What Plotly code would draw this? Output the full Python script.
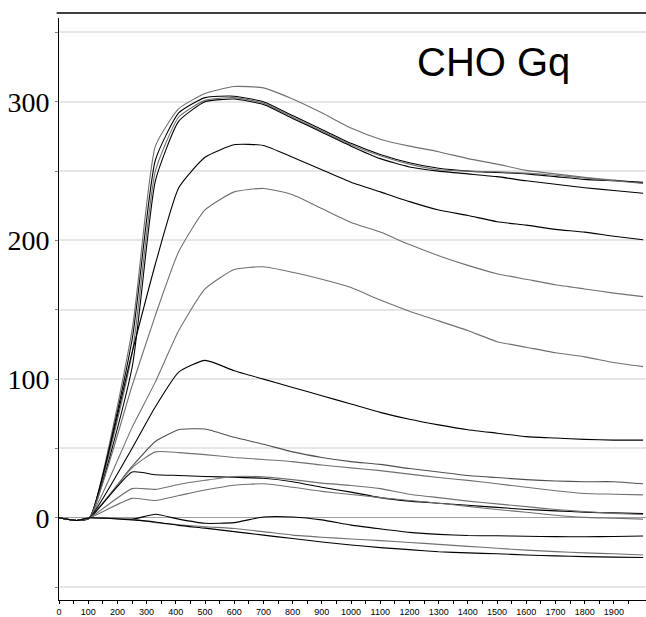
import plotly.graph_objects as go

# time axis (s)
T = [0, 60, 105, 250, 330, 410, 500, 600, 700, 800, 900, 1000, 1100, 1200,
     1300, 1400, 1500, 1600, 1700, 1800, 1900, 2000]

P1 = [0, -2, 0, 135, 268, 295, 306, 311, 310, 302, 292, 281, 273, 268, 264, 259, 255, 250.5, 248, 245.5, 243.5, 241.5]
P2 = [0, -2, 0, 128, 258, 292, 303, 304, 300, 290, 280, 270, 262, 256, 252, 250, 249, 248, 246, 244, 243, 242]
P3 = [0, -2, 0, 118, 250, 289, 301, 303, 299, 289, 279, 269, 261, 255, 251, 250, 249.5, 248.5, 247, 245, 243, 241]
P4 = [0, -2, 0, 108, 243, 286, 300, 302, 298, 288, 278, 268, 259, 253, 250, 248, 246, 243, 240.5, 238, 236, 234]
P5 = [0, -2, 0, 119, 183, 238, 260, 269, 268.5, 260, 251, 242, 235, 228, 222, 218, 213.5, 211, 208, 206, 203, 200.5]
P6 = [0, -2, 0, 95, 146, 192, 222, 235, 237.5, 233, 223, 213, 206, 197, 189, 182, 176, 172, 168, 165, 162, 159.5]
P7 = [0, -2, 0, 65, 98, 135, 165, 179, 181, 177, 172, 166, 157, 149, 142, 135, 127, 123, 119, 116, 112, 109]
P8 = [0, -2, 0, 50, 80, 105, 113.5, 106, 100, 94, 88, 82, 76, 71, 67, 63.5, 61, 58.5, 57.5, 56.5, 56, 56]
A = [0, -2, 0, 37, 55, 63.5, 64, 58, 53, 47.5, 43.5, 40.5, 38.5, 35.5, 33, 30.5, 29, 27.5, 26.5, 26, 26, 24.5]
B = [0, -2, 0, 36, 47.5, 47, 45.5, 43.5, 42, 40.5, 38, 36, 34, 31.5, 29, 27, 24.5, 22, 19.5, 17.5, 17, 16.5]
C = [0, -2, 0, 33, 31, 30.5, 29.8, 29.2, 28.5, 26, 22, 18.5, 14.5, 12, 10.5, 9, 7.5, 6, 5, 4, 3.5, 3]
D = [0, -2, 0, 21, 20.5, 24, 27, 29.8, 29.5, 27.5, 25, 23.3, 21, 17, 14.5, 12, 10, 8, 6, 4.5, 3.2, 2.4]
E = [0, -2, 0, 14, 12.5, 16, 20, 23.5, 24.5, 22, 19, 16.8, 14.5, 12.5, 10.5, 8.2, 6, 4, 1.8, 0.3, -0.3, -1]
F = [0, -2, 0, -1, 2.5, -1, -4, -3.5, 0.6, 0.6, -1.5, -5.3, -8, -10.5, -12, -12.8, -13, -13.3, -13.6, -13.7, -13.5, -13.2]
G = [0, -2, 0, -1, -3.5, -5, -6.5, -7.7, -10, -12.5, -14, -15.3, -16.5, -17.8, -19.2, -20.6, -22, -23.3, -24.4, -25.3, -26, -26.8]
H = [0, -2, 0, -1.5, -3, -5.5, -7.5, -10, -12.5, -15, -17.5, -19.6, -21.5, -23, -24.5, -25.3, -26, -26.8, -27.5, -28, -28.4, -28.7]

series = [P1, P2, P3, P4, P5, P6, P7, P8, A, B, C, D, E, F, G, H]
colors = ["#707070", "#000000", "#707070", "#000000", "#000000", "#707070", "#707070", "#000000",
          "#505050", "#707070", "#000000", "#707070", "#707070", "#000000", "#707070", "#000000"]

Y_TICKS = [-50, 0, 50, 100, 150, 200, 250, 300, 350]
Y_TEXT = ["", "0", "", "100", "", "200", "", "300", ""]
X_TICKS = list(range(0, 2000, 100))

fig = go.Figure()
for s, c in zip(series, colors):
    fig.add_trace(go.Scatter(x=T, y=s, mode="lines",
                             line=dict(color=c, width=1.1, shape="spline", smoothing=0.5),
                             showlegend=False, hoverinfo="skip"))

fig.update_layout(
    width=646, height=617,
    margin=dict(l=59, r=0, t=18, b=12),
    paper_bgcolor="white", plot_bgcolor="white",
    showlegend=False,
    xaxis=dict(range=[0, 2010], tickvals=X_TICKS, ticktext=[str(v) for v in X_TICKS],
               showgrid=False, zeroline=False, showline=True, linecolor="black", linewidth=1,
               ticks="outside", ticklen=3, tickcolor="black",
               minor=dict(dtick=100, tick0=50, ticks="outside", ticklen=3, tickcolor="black"),
               tickfont=dict(family="Arial, Liberation Sans", size=9, color="black")),
    yaxis=dict(range=[-59.3, 360.4], tickvals=Y_TICKS, ticktext=Y_TEXT,
               showgrid=True, gridcolor="#e6e6e6", gridwidth=1.5,
               zeroline=True, zerolinecolor="#a0a0a0", zerolinewidth=1,
               showline=True, linecolor="black", linewidth=1,
               ticks="outside", ticklen=3, tickcolor="#808080",
               tickfont=dict(family="Liberation Serif, Times New Roman", size=28, color="black")),
)

fig.add_annotation(text="CHO Gq", xref="paper", yref="paper", x=0.741, y=0.925,
                   xanchor="center", yanchor="middle", showarrow=False,
                   font=dict(family="Liberation Sans, Arial", size=40, color="black"))

fig.add_shape(type="line", xref="paper", yref="paper", x0=-0.004, x1=1.0,
              y0=1 + 5 / 587, y1=1 + 5 / 587, line=dict(color="black", width=1.5))

fig.write_html("out.html")
